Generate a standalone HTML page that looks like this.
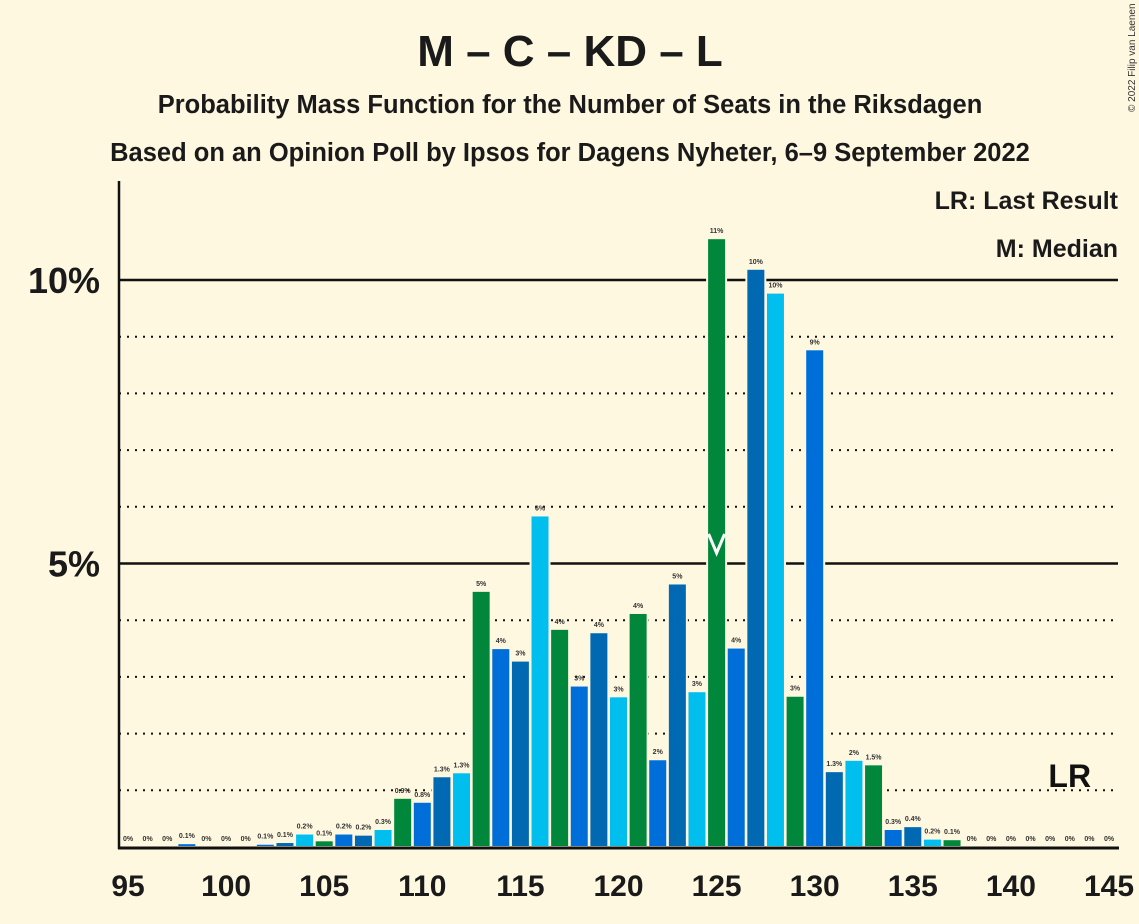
<!DOCTYPE html>
<html><head><meta charset="utf-8"><style>
body{margin:0;background:#fff8e1;}
svg{display:block;font-family:"Liberation Sans",sans-serif;}
</style></head><body>
<svg id="c" width="1139" height="924" xmlns="http://www.w3.org/2000/svg">
<rect width="1139" height="924" fill="#fff8e1"/>
<text x="570" y="66" text-anchor="middle" font-size="44" font-weight="bold" fill="#1a1a1a">M – C – KD – L</text>
<text x="570" y="113" text-anchor="middle" font-size="25.5" font-weight="bold" fill="#1a1a1a">Probability Mass Function for the Number of Seats in the Riksdagen</text>
<text x="570" y="161" text-anchor="middle" font-size="25.5" font-weight="bold" fill="#1a1a1a">Based on an Opinion Poll by Ipsos for Dagens Nyheter, 6–9 September 2022</text>
<text x="1135" y="112" font-size="10" fill="#333" transform="rotate(-90 1135 112)">© 2022 Filip van Laenen</text>
<text x="1118" y="209" text-anchor="end" font-size="25" font-weight="bold" fill="#1a1a1a">LR: Last Result</text>
<text x="1118" y="257" text-anchor="end" font-size="25" font-weight="bold" fill="#1a1a1a">M: Median</text>
<g id="grid"></g><g id="bars"></g><g id="labels"></g><g id="axes"></g>
</svg>
<script>
const seats=[95,96,97,98,99,100,101,102,103,104,105,106,107,108,109,110,111,112,113,114,115,116,117,118,119,120,121,122,123,124,125,126,127,128,129,130,131,132,133,134,135,136,137,138,139,140,141,142,143,144,145];
const probs=[0,0,0,0.05,0,0,0,0.04,0.07,0.22,0.1,0.22,0.2,0.3,0.85,0.78,1.23,1.3,4.5,3.49,3.27,5.83,3.83,2.83,3.77,2.64,4.11,1.53,4.63,2.73,10.72,3.5,10.18,9.76,2.65,8.76,1.32,1.52,1.44,0.3,0.35,0.13,0.12,0,0,0,0,0,0,0,0];
const labels=["0%","0%","0%","0.1%","0%","0%","0%","0.1%","0.1%","0.2%","0.1%","0.2%","0.2%","0.3%","0.9%","0.8%","1.3%","1.3%","5%","4%","3%","6%","4%","3%","4%","3%","4%","2%","5%","3%","11%","4%","10%","10%","3%","9%","1.3%","2%","1.5%","0.3%","0.4%","0.2%","0.1%","0%","0%","0%","0%","0%","0%","0%","0%"];
const xTicks=[95,100,105,110,115,120,125,130,135,140,145];
const medianSeat=125, lastResult=143;
const NS="http://www.w3.org/2000/svg";
const x=s=>128+(s-95)*19.62;
const y=p=>847-p*56.7;
const colors={1:"#00873c",2:"#006ed8",3:"#0069b2",0:"#00bfef"};
function mk(t,a,p){const e=document.createElementNS(NS,t);for(const k in a)e.setAttribute(k,a[k]);p.appendChild(e);return e;}
const grid=document.getElementById('grid'),bars=document.getElementById('bars'),lab=document.getElementById('labels'),axes=document.getElementById('axes');
for(let p=1;p<=10;p++){
  const major=p%5===0;
  const l=mk('line',{x1:119,x2:1118,y1:y(p),y2:y(p),stroke:'#111','stroke-width':major?2.5:2,'stroke-dasharray':major?'none':'2 6'},grid);
  
  
}
[5,10].forEach(p=>{const t=mk('text',{x:100,y:y(p)+13,'text-anchor':'end','font-size':36,'font-weight':'bold',fill:'#1a1a1a'},axes);t.textContent=p+'%';
});
seats.forEach((s,i)=>{
  const p=probs[i];
  if(p>0){const r=mk('rect',{x:x(s)-9.5,y:y(p)-1,width:19,height:847-y(p)+1,fill:colors[s%4],stroke:'#fff8e1','stroke-width':2},bars);
  }
  const t=mk('text',{x:x(s),y:y(p)-6,'text-anchor':'middle','font-size':7,'font-weight':'bold',fill:'#333'},lab);t.textContent=labels[i];
  
});
const m=mk('polyline',{points:`${x(medianSeat)-8},534 ${x(medianSeat)},553 ${x(medianSeat)+8},534`,fill:'none',stroke:'#fff','stroke-width':3},bars);

const lr=mk('text',{x:x(lastResult),y:787,'text-anchor':'middle','font-size':32,'font-weight':'bold',fill:'#111'},lab);lr.textContent='LR';

const ya=mk('line',{x1:119,x2:119,y1:181,y2:849,stroke:'#111','stroke-width':2.5},axes);

const xa=mk('line',{x1:118,x2:1119,y1:848,y2:848,stroke:'#111','stroke-width':3},axes);

xTicks.forEach(s=>{const t=mk('text',{x:x(s),y:896,'text-anchor':'middle','font-size':30,'font-weight':'bold',fill:'#1a1a1a'},axes);t.textContent=s;
});
</script>
</body></html>
